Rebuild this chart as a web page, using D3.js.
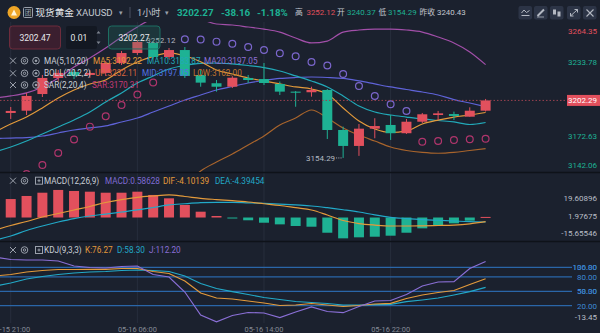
<!DOCTYPE html>
<html><head><meta charset="utf-8">
<script src="https://cdn.jsdelivr.net/npm/d3@7/dist/d3.min.js"></script>
<style>
html,body{margin:0;padding:0;background:#1b212e;overflow:hidden}
svg{display:block}
text{font-family:Roboto,"Noto Sans","Noto Sans CJK SC",sans-serif}
</style></head><body>
<svg id="chart" width="600" height="333"></svg>
<script>
// ---- hourly bars, XAUUSD ----
const times = ["05-15 20:00","05-15 21:00","05-15 22:00","05-15 23:00","05-16 00:00","05-16 01:00","05-16 02:00","05-16 03:00","05-16 04:00",
  "05-16 06:00","05-16 07:00","05-16 08:00","05-16 09:00","05-16 10:00","05-16 11:00","05-16 12:00","05-16 13:00","05-16 14:00",
  "05-16 15:00","05-16 16:00","05-16 17:00","05-16 18:00","05-16 19:00","05-16 20:00","05-16 21:00","05-16 22:00","05-16 23:00",
  "05-17 00:00","05-17 01:00","05-17 02:00","05-17 03:00","05-17 04:00"];
const xTicks = ["05-15 21:00","05-16 06:00","05-16 14:00","05-16 22:00"];

const opens  = [3180.1,3191.8,3193.7,3207.6,3221.0,3226.0,3223.5,3225.2,3233.5,3241.8,3250.2,3238.5,3244.3,3223.5,3216.6,3213.7,3221.0,3220.1,3216.0,3209.6,3209.1,3211.0,3177.6,3164.3,3178.7,3181.8,3174.9,3184.5,3190.1,3190.9,3188.7,3193.7];
const highs  = [3191.5,3196.8,3208.5,3223.5,3227.7,3228.5,3227.7,3235.2,3243.5,3252.12,3251.5,3246.0,3246.8,3227.7,3219.3,3222.5,3223.5,3233.5,3218.0,3210.1,3213.7,3211.8,3180.4,3182.6,3187.4,3190.1,3186.8,3191.8,3193.5,3192.9,3196.5,3203.5];
const lows   = [3178.0,3186.8,3190.1,3205.1,3218.5,3220.1,3221.0,3222.7,3231.8,3240.2,3237.7,3236.8,3221.0,3213.7,3209.6,3212.6,3216.8,3215.1,3206.8,3197.0,3205.4,3170.1,3154.29,3156.0,3170.7,3169.3,3174.3,3183.4,3185.9,3185.9,3188.7,3193.0];
const closes = [3190.1,3193.5,3206.0,3221.0,3225.2,3222.7,3225.2,3233.5,3241.8,3251.0,3238.5,3244.3,3222.7,3217.1,3213.7,3221.2,3219.3,3216.8,3209.6,3208.7,3211.0,3177.6,3164.3,3178.7,3180.9,3174.9,3184.5,3190.7,3191.5,3189.3,3193.7,3202.27];

const ma5  = [3176.0,3182.6,3188.4,3196.0,3204.3,3211.0,3216.0,3219.3,3227.7,3234.3,3239.0,3242.0,3239.5,3234.5,3227.7,3224.3,3221.0,3218.5,3216.0,3213.5,3211.8,3207.6,3196.0,3185.1,3178.4,3175.5,3176.8,3182.6,3185.9,3188.4,3190.1,3192.22];
const ma10 = [3159.3,3163.4,3168.4,3174.3,3180.1,3186.0,3192.6,3201.0,3208.5,3216.8,3222.7,3228.5,3231.4,3233.1,3233.5,3232.7,3231.4,3229.7,3226.8,3222.7,3218.5,3213.5,3206.0,3197.6,3192.6,3190.1,3188.4,3186.8,3185.5,3184.3,3182.2,3183.87];
const bollMid = [3170.5,3170.9,3171.3,3172.6,3175.1,3177.6,3179.3,3181.0,3184.3,3187.6,3192.6,3197.6,3202.6,3206.8,3211.0,3213.9,3216.8,3218.9,3220.6,3221.4,3221.8,3221.4,3220.6,3218.5,3216.0,3213.5,3211.4,3209.3,3206.8,3203.0,3200.1,3197.05];
const bollUp  = [3204.3,3206.0,3208.5,3213.5,3221.0,3230.2,3237.7,3246.0,3255.2,3263.5,3271.0,3276.0,3274.4,3270.2,3266.0,3265.2,3263.5,3261.8,3259.3,3254.3,3250.2,3251.8,3259.3,3261.0,3261.8,3261.8,3261.0,3259.3,3255.2,3250.2,3242.7,3232.11];
const bollLow = [3136.7,3135.8,3134.1,3131.7,3129.2,3125.0,3120.9,3116.0,3113.4,3111.7,3114.2,3119.2,3130.8,3143.4,3150.9,3157.6,3165.1,3172.6,3181.8,3187.6,3194.3,3187.6,3179.3,3173.4,3168.4,3163.4,3160.5,3158.9,3158.2,3158.9,3160.5,3162.00];
const sar = [3130.0,3135.5,3140.9,3148.4,3158.4,3169.7,3180.4,3189.0,3198.4,3207.2,3217.2,null,3253.3,3253.1,3251.3,3249.6,3246.8,3244.3,3241.6,3239.1,3234.3,3231.4,3224.3,3214.3,3206.0,3199.1,3193.5,3167.8,3168.4,3169.3,3169.9,3170.31];

const macdHist = [15.2,18.1,21.1,24.3,27.0,26.0,25.3,24.3,24.3,25.3,22.1,18.8,12.3,5.7,1.5,-0.8,-2.7,-5.1,-6.7,-8.3,-9.0,-14.9,-20.4,-19.4,-18.8,-17.8,-14.9,-10.6,-8.0,-5.7,-3.1,0.58628];
const dif = [-12.3,-7.8,-3.9,0.5,3.9,7.4,10.8,14.7,17.6,19.8,21.1,22.1,20.6,18.8,17.6,16.5,15.2,13.5,11.8,9.6,7.4,2.5,-2.9,-5.9,-7.4,-8.3,-8.3,-8.1,-7.8,-7.4,-6.2,-4.10139];
const dea = [-22.1,-18.1,-12.7,-8.3,-4.4,-1.0,1.5,3.4,5.4,7.4,9.8,12.3,13.5,14.5,14.9,14.9,14.4,13.9,13.2,12.3,11.3,9.6,7.6,5.4,2.5,0.2,-1.0,-2.0,-2.7,-3.4,-4.1,-4.39454];

const kVals = [81.9,85.0,90.2,93.3,95.4,95.4,95.8,95.8,97.5,97.5,91.3,87.1,71.5,46.5,36.0,34.0,29.8,25.6,20.4,21.5,24.6,21.5,18.3,20.4,23.5,25.0,35.0,42.3,47.5,51.7,64.2,76.27];
const dVals = [61.0,67.3,75.6,80.8,85.0,88.1,90.2,91.3,93.3,94.4,93.3,91.3,81.9,66.3,55.8,49.2,43.3,37.1,32.9,28.8,26.7,24.6,21.5,21.5,22.1,22.9,28.3,31.9,36.0,42.3,49.2,58.30];
const jVals = [121.5,116.3,115.2,115.2,113.1,102.7,99.6,98.5,101.7,102.7,85.0,79.8,48.5,0.6,-13.45,-0.4,5.8,4.8,-4.6,6.9,17.3,7.9,5.4,18.3,29.8,30.8,43.3,61.0,69.4,70.0,97.5,112.20];

const priceTicks = [3264.35,3233.78,3172.63,3142.06];
const macdTicks = [19.60896,1.97675,-15.65546];
const kdjLevels = [100,80,50,20];
const prevClose = 3240.43, lastPrice = 3202.27, dayHigh = 3252.12, dayLow = 3154.29;

// ---- layout ----
const W = 600, H = 333;
const BG = '#1b212e', UP = '#e2505d', DN = '#1eb294';
const C = {ma5:'#e39a3b', ma10:'#22a9b8', mid:'#5f63d8', up:'#a24fa9', low:'#a8642c',
  sarUp:'#b0356c', sarDn:'#7b66cc', dif:'#e39a3b', dea:'#22a9c8', k:'#e39a3b', d:'#22a9c8', j:'#8a6fd6'};

const svg = d3.select('#chart');
svg.append('rect').attr('width', W).attr('height', H).attr('fill', BG);

const x = d3.scalePoint().domain(times).range([-5.1, 485.6]);
const yMain = d3.scaleLinear().domain([3142.06, 3264.35]).range([172.6, 26]);
const yMacd = d3.scaleLinear().domain([-15.65546, 19.60896]).range([233.5, 197.5]);
const yKdj = d3.scaleLinear().domain([20, 100]).range([305.7, 267.3]);

const defs = svg.append('defs');
function addClip(id, y0, y1) {
  defs.append('clipPath').attr('id', id).append('rect')
    .attr('x', 0).attr('y', y0).attr('width', 567).attr('height', y1 - y0);
}
addClip('cMain', 22, 172); addClip('cMacd', 173, 241); addClip('cKdj', 242, 323);

// vertical time grid
svg.append('g').selectAll('line').data(xTicks).join('line')
  .attr('x1', d => x(d)).attr('x2', d => x(d)).attr('y1', 22).attr('y2', 323)
  .attr('stroke', '#272e3d').attr('stroke-width', 1);

// panel separators
svg.append('g').selectAll('line').data([172.5, 241.5]).join('line')
  .attr('x1', 0).attr('x2', W).attr('y1', d => d).attr('y2', d => d)
  .attr('stroke', '#0e1219').attr('stroke-width', 1.6);

const pathOf = (scale, vals) => d3.line()
  .defined(d => d != null)
  .x((d, i) => x(times[i])).y(d => scale(d))
  .curve(d3.curveMonotoneX)(vals);

// ---- main price panel ----
const gMain = svg.append('g').attr('clip-path', 'url(#cMain)');
[[bollUp, C.up], [bollLow, C.low], [bollMid, C.mid], [ma10, C.ma10], [ma5, C.ma5]].forEach(([v, col]) => {
  gMain.append('path').attr('d', pathOf(yMain, v)).attr('fill', 'none')
    .attr('stroke', col).attr('stroke-width', 1.2);
});

const candles = times.map((t, i) => ({t, o: opens[i], h: highs[i], l: lows[i], c: closes[i]}));
const colOf = d => d.c >= d.o ? UP : DN;
gMain.append('g').selectAll('line').data(candles).join('line')
  .attr('x1', d => x(d.t)).attr('x2', d => x(d.t))
  .attr('y1', d => yMain(d.h)).attr('y2', d => yMain(d.l))
  .attr('stroke', colOf).attr('stroke-width', 1);
gMain.append('g').selectAll('rect').data(candles).join('rect')
  .attr('x', d => x(d.t) - 5).attr('width', 10)
  .attr('y', d => yMain(Math.max(d.o, d.c)))
  .attr('height', d => Math.max(1, Math.abs(yMain(d.o) - yMain(d.c))))
  .attr('fill', colOf);

// parabolic SAR dots
const sarPts = sar.map((v, i) => ({t: times[i], v, above: v != null && v > highs[i]})).filter(d => d.v != null);
gMain.append('g').selectAll('circle').data(sarPts).join('circle')
  .attr('cx', d => x(d.t)).attr('cy', d => yMain(d.v)).attr('r', 3.4)
  .attr('fill', 'none').attr('stroke', d => d.above ? C.sarDn : C.sarUp).attr('stroke-width', 1.2);

// last price dotted line + tag
svg.append('line').attr('x1', 0).attr('x2', 567).attr('y1', yMain(lastPrice)).attr('y2', yMain(lastPrice))
  .attr('stroke', '#9a4150').attr('stroke-width', 1).attr('stroke-dasharray', '1.5,2');
svg.append('rect').attr('x', 567).attr('y', yMain(lastPrice) - 5.5).attr('width', 33).attr('height', 11).attr('fill', UP);
svg.append('text').attr('x', 597).attr('y', yMain(lastPrice)).attr('dy', '0.35em').attr('text-anchor', 'end')
  .attr('fill', '#ffffff').attr('font-size', 8).text('3202.29');

// price axis labels
svg.append('g').selectAll('text').data(priceTicks).join('text')
  .attr('x', 597).attr('y', d => Math.min(165, Math.max(30.7, yMain(d))))
  .attr('dy', '0.35em').attr('text-anchor', 'end').attr('font-size', 8)
  .attr('fill', d => d > prevClose ? UP : DN).text(d => d.toFixed(2));

// high / low markers
const iHi = highs.indexOf(dayHigh), iLo = lows.indexOf(dayLow);
const hx = x(times[iHi]), hy = yMain(dayHigh);
svg.append('line').attr('x1', hx + 1).attr('x2', hx + 8).attr('y1', hy).attr('y2', hy)
  .attr('stroke', '#aab0ba').attr('stroke-dasharray', '1,1.2');
svg.append('text').attr('x', hx + 9).attr('y', hy).attr('dy', '0.35em').attr('font-size', 8)
  .attr('fill', '#b4b9c2').text(dayHigh.toFixed(2));
const lx = x(times[iLo]), ly = yMain(dayLow);
svg.append('line').attr('x1', lx - 7).attr('x2', lx - 1).attr('y1', ly).attr('y2', ly)
  .attr('stroke', '#aab0ba').attr('stroke-dasharray', '1,1.2');
svg.append('text').attr('x', lx - 8).attr('y', ly).attr('dy', '0.35em').attr('font-size', 8)
  .attr('text-anchor', 'end').attr('fill', '#b4b9c2').text(dayLow.toFixed(2));

// ---- MACD panel ----
const gMacd = svg.append('g').attr('clip-path', 'url(#cMacd)');
gMacd.append('g').selectAll('rect').data(macdHist.map((v, i) => ({t: times[i], v}))).join('rect')
  .attr('x', d => x(d.t) - 5).attr('width', 10)
  .attr('y', d => Math.min(yMacd(0), yMacd(d.v)))
  .attr('height', d => Math.max(1, Math.abs(yMacd(d.v) - yMacd(0))))
  .attr('fill', d => d.v >= 0 ? UP : DN);
[[dea, C.dea], [dif, C.dif]].forEach(([v, col]) => {
  gMacd.append('path').attr('d', pathOf(yMacd, v)).attr('fill', 'none').attr('stroke', col).attr('stroke-width', 1.2);
});
svg.append('g').selectAll('text').data(macdTicks).join('text')
  .attr('x', 597).attr('y', d => Math.min(232.7, yMacd(d) + 1)).attr('dy', '0.35em')
  .attr('text-anchor', 'end').attr('font-size', 8).attr('fill', '#b9bec7')
  .text(d => d.toFixed(5));

// ---- KDJ panel ----
svg.append('g').selectAll('line').data(kdjLevels).join('line')
  .attr('x1', 0).attr('x2', 572).attr('y1', d => yKdj(d)).attr('y2', d => yKdj(d))
  .attr('stroke', '#2a66a8').attr('stroke-width', 1.2);
const gKdj = svg.append('g').attr('clip-path', 'url(#cKdj)');
[[dVals, C.d], [kVals, C.k], [jVals, C.j]].forEach(([v, col]) => {
  gKdj.append('path').attr('d', d3.line().x((d, i) => x(times[i])).y(d => yKdj(d))(v))
    .attr('fill', 'none').attr('stroke', col).attr('stroke-width', 1.2);
});
svg.append('g').selectAll('text').data(kdjLevels).join('text')
  .attr('x', 597).attr('y', d => yKdj(d)).attr('dy', '0.35em').attr('text-anchor', 'end')
  .attr('font-size', 8).attr('fill', '#3d8ad6').text(d => d.toFixed(2));
svg.append('text').attr('x', 597).attr('y', yKdj(100)).attr('dy', '0.35em').attr('text-anchor', 'end')
  .attr('font-size', 8).attr('fill', '#3d8ad6').attr('opacity', 0.8).text('136.80');
svg.append('text').attr('x', 597).attr('y', yKdj(50)).attr('dy', '0.35em').attr('text-anchor', 'end')
  .attr('font-size', 8).attr('fill', '#3d8ad6').attr('opacity', 0.8).text(dVals[dVals.length - 1].toFixed(2));
svg.append('text').attr('x', 597).attr('y', 316.7).attr('dy', '0.35em').attr('text-anchor', 'end')
  .attr('font-size', 8).attr('fill', '#b9bec7').text(d3.min(jVals).toFixed(2));

// time axis
svg.append('g').selectAll('text').data(xTicks).join('text')
  .attr('x', d => x(d)).attr('y', 329).attr('dy', '0.35em').attr('text-anchor', 'middle')
  .attr('font-size', 7.4).attr('fill', '#858b96').text(d => d);

// ---- legends ----
function icons(g, y, third) {
  const s = '#9aa0ab';
  g.append('path').attr('d', `M${10},${y - 3}L${16},${y + 3}M${16},${y - 3}L${10},${y + 3}`).attr('stroke', s).attr('stroke-width', 1);
  g.append('circle').attr('cx', 24.5).attr('cy', y).attr('r', 3.3).attr('fill', 'none').attr('stroke', s);
  g.append('circle').attr('cx', 24.5).attr('cy', y).attr('r', 1.2).attr('fill', 'none').attr('stroke', s);
  if (third === 'eye') {
    g.append('circle').attr('cx', 36).attr('cy', y).attr('r', 3.3).attr('fill', 'none').attr('stroke', s);
    g.append('circle').attr('cx', 36).attr('cy', y).attr('r', 1.3).attr('fill', s);
  } else {
    g.append('rect').attr('x', 35.5).attr('y', y - 3.5).attr('width', 7).attr('height', 7).attr('fill', 'none').attr('stroke', s);
    g.append('path').attr('d', `M37.5,${y}H40.5M39,${y - 1.5}V${y + 1.5}`).attr('stroke', s);
  }
}
function legend(y, items, third) {
  const g = svg.append('g');
  icons(g, y, third);
  items.forEach(([tx, px, col]) => {
    g.append('text').attr('x', px).attr('y', y).attr('dy', '0.35em').attr('font-size', 8.2)
      .attr('fill', col).text(tx);
  });
}
legend(60.7, [['MA(5,10,20)', 44, '#c9ced6'], ['MA5:3192.22', 93, C.ma5], ['MA10:3183.87', 147, C.ma10], ['MA20:3197.05', 204, '#8c6fd4']], 'eye');
legend(73.3, [['BOLL(20,2,2)', 44, '#c9ced6'], ['UP:3232.11', 95, '#d9663f'], ['MID:3197.05', 142, '#5273e2'], ['LOW:3162.00', 193, '#c0732d']], 'eye');
legend(85, [['SAR(2,20,4)', 44, '#c9ced6'], ['SAR:3170.31', 92, '#c53b77']], 'eye');
legend(180.7, [['MACD(12,26,9)', 44, '#c9ced6'], ['MACD:0.58628', 105, '#7f6bd4'], ['DIF:-4.10139', 163, C.dif], ['DEA:-4.39454', 215, C.dea]], 'box');
legend(250, [['KDJ(9,3,3)', 44, '#c9ced6'], ['K:76.27', 85, C.k], ['D:58.30', 117, C.d], ['J:112.20', 149, C.j]], 'box');

// ---- order inputs ----
const inp = svg.append('g');
inp.append('rect').attr('x', 9.5).attr('y', 26).attr('width', 51).attr('height', 23).attr('rx', 3)
  .attr('fill', 'rgba(120,30,48,0.35)').attr('stroke', '#6e2c3c');
inp.append('text').attr('x', 35).attr('y', 37.5).attr('dy', '0.35em').attr('text-anchor', 'middle')
  .attr('font-size', 8.6).attr('fill', '#e6e7ea').text('3202.47');
inp.append('rect').attr('x', 66).attr('y', 26).attr('width', 31).attr('height', 23).attr('rx', 2).attr('fill', '#131822');
inp.append('text').attr('x', 79).attr('y', 37.5).attr('dy', '0.35em').attr('text-anchor', 'middle')
  .attr('font-size', 8.6).attr('fill', '#e6e7ea').text('0.01');
inp.append('path').attr('d', 'M96.5,33.5L98.5,31L100.5,33.5ZM96.5,41.5L98.5,44L100.5,41.5Z').attr('fill', '#7d838e');
inp.append('rect').attr('x', 108.5).attr('y', 26).attr('width', 51.5).attr('height', 23).attr('rx', 3)
  .attr('fill', 'rgba(30,130,110,0.22)').attr('stroke', '#1d6e62');
inp.append('text').attr('x', 134).attr('y', 37.5).attr('dy', '0.35em').attr('text-anchor', 'middle')
  .attr('font-size', 8.6).attr('fill', '#e6e7ea').text('3202.27');

// ---- header ----
const hd = svg.append('g');
hd.append('circle').attr('cx', 14).attr('cy', 12.5).attr('r', 6.5).attr('fill', '#eea526');
hd.append('path').attr('d', 'M11,15.5L14,9.5L17,15.5Z').attr('fill', '#fff4d6');
hd.append('rect').attr('x', 23.5).attr('y', 7.5).attr('width', 9).attr('height', 10).attr('rx', 1)
  .attr('fill', 'none').attr('stroke', '#9aa0ab');
hd.append('text').attr('x', 28).attr('y', 12.7).attr('dy', '0.35em').attr('text-anchor', 'middle')
  .attr('font-size', 6.5).attr('fill', '#9aa0ab').text('团');
const hText = (tx, px, col, size, weight) => hd.append('text').attr('x', px).attr('y', 12.7).attr('dy', '0.35em')
  .attr('font-size', size).attr('font-weight', weight || 'normal').attr('fill', col).text(tx);
hText('现货黄金', 35.5, '#e8e9ec', 9.6);
hText('XAUUSD', 76, '#c3c8d0', 9.6);
hText('▾', 119, '#9aa0ab', 7);
hd.append('line').attr('x1', 130).attr('x2', 130).attr('y1', 7).attr('y2', 18).attr('stroke', '#4a5160');
hText('1小时', 137, '#c3c8d0', 9.2);
hText('▾', 165, '#9aa0ab', 7);
hText('3202.27', 177, DN, 9.8, 'bold');
hText('-38.16', 221, DN, 9.8, 'bold');
hText('-1.18%', 257, DN, 9.8, 'bold');
hText('高', 295, '#c3c8d0', 7.8);
hText('3252.12', 306.5, UP, 7.9);
hText('开', 337, '#c3c8d0', 7.8);
hText('3240.37', 347, DN, 7.9);
hText('低', 378.5, '#c3c8d0', 7.8);
hText('3154.29', 388, DN, 7.9);
hText('昨收', 419.5, '#c3c8d0', 7.8);
hText('3240.43', 437, '#c3c8d0', 7.9);

// toolbar buttons
const bx = [518.5, 534, 550, 567, 583];
hd.selectAll('rect.btn').data(bx).join('rect').attr('class', 'btn')
  .attr('x', d => d).attr('y', 6).attr('width', 13.5).attr('height', 13.5).attr('rx', 2).attr('fill', '#2c3446');
const ic = '#b3b8c2';
hd.append('path').attr('d', 'M521.5,15.5H529.5M521.5,13L524,10L526.5,12.5L529.5,10.5').attr('stroke', ic).attr('fill', 'none');
hd.append('path').attr('d', 'M537.5,16L544,9.5').attr('stroke', ic).attr('stroke-width', 2);
hd.append('path').attr('d', 'M537,17H544').attr('stroke', ic).attr('stroke-width', 0.8);
hd.append('rect').attr('x', 553).attr('y', 9.5).attr('width', 3).attr('height', 5).attr('fill', ic);
hd.append('rect').attr('x', 557.5).attr('y', 11.5).attr('width', 3).attr('height', 5).attr('fill', ic);
hd.append('path').attr('d', 'M570.5,16L577.5,9.5M574.5,9.5H577.5V12.5M570.5,13V16H573.5').attr('stroke', ic).attr('fill', 'none');
hd.append('path').attr('d', 'M586.5,9.5L593.5,16.5M593.5,9.5L586.5,16.5').attr('stroke', ic).attr('stroke-width', 1.1);
</script></body></html>
